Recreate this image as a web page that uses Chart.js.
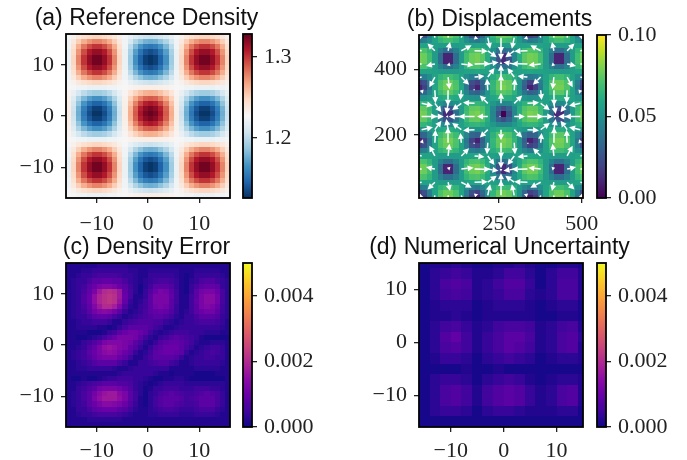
<!DOCTYPE html>
<html>
<head>
<meta charset="utf-8">
<title>Density panels</title>
<script src="https://cdn.jsdelivr.net/npm/chart.js@4"></script>
<style>
  html, body { margin: 0; padding: 0; background: #fff; }
  #wrap { position: relative; width: 687px; height: 460px; overflow: hidden; }
  canvas { position: absolute; left: 0; top: 0; filter: blur(0.6px); }
</style>
</head>
<body>
<div id="wrap"></div>
<script>
// (a) reference density, unit 0.001, one row per distinct y band
const rho0 = [1234,1205,1177,1154,1137,1128,1128,1137,1154,1177,1205,1234,1264,1289,1310,1323,1327,1323,1310,1289,1264,1234,1205,1177,1154,1137,1128,1128,1137,1154,1177,1205];
const rho1 = [1234,1206,1179,1157,1141,1132,1132,1141,1157,1179,1206,1234,1262,1287,1306,1318,1323,1318,1306,1287,1262,1234,1206,1179,1157,1141,1132,1132,1141,1157,1179,1206];
const rho2 = [1233,1209,1186,1167,1153,1145,1145,1153,1167,1186,1209,1233,1257,1278,1295,1306,1310,1306,1295,1278,1257,1233,1209,1186,1167,1153,1145,1145,1153,1167,1186,1209];
const rho3 = [1232,1213,1196,1181,1171,1165,1165,1171,1181,1196,1213,1232,1250,1266,1278,1287,1289,1287,1278,1266,1250,1232,1213,1196,1181,1171,1165,1165,1171,1181,1196,1213];
const rho4 = [1230,1219,1209,1200,1194,1191,1191,1194,1200,1209,1219,1230,1240,1250,1257,1262,1264,1262,1257,1250,1240,1230,1219,1209,1200,1194,1191,1191,1194,1200,1209,1219];
const rho5 = [1228,1225,1223,1222,1220,1220,1220,1220,1222,1223,1225,1228,1230,1232,1233,1234,1234,1234,1233,1232,1230,1228,1225,1223,1222,1220,1220,1220,1220,1222,1223,1225];
const rho6 = [1225,1232,1238,1243,1247,1249,1249,1247,1243,1238,1232,1225,1219,1213,1209,1206,1205,1206,1209,1213,1219,1225,1232,1238,1243,1247,1249,1249,1247,1243,1238,1232];
const rho7 = [1223,1238,1252,1264,1272,1277,1277,1272,1264,1252,1238,1223,1209,1196,1186,1179,1177,1179,1186,1196,1209,1223,1238,1252,1264,1272,1277,1277,1272,1264,1252,1238];
const rho8 = [1222,1243,1264,1281,1293,1300,1300,1293,1281,1264,1243,1222,1200,1181,1167,1157,1154,1157,1167,1181,1200,1222,1243,1264,1281,1293,1300,1300,1293,1281,1264,1243];
const rho9 = [1220,1247,1272,1293,1308,1316,1316,1308,1293,1272,1247,1220,1194,1171,1153,1141,1137,1141,1153,1171,1194,1220,1247,1272,1293,1308,1316,1316,1308,1293,1272,1247];
const rho10 = [1220,1249,1277,1300,1316,1325,1325,1316,1300,1277,1249,1220,1191,1165,1145,1132,1128,1132,1145,1165,1191,1220,1249,1277,1300,1316,1325,1325,1316,1300,1277,1249];
const densityValues = [rho6,rho7,rho8,rho9,rho10,rho10,rho9,rho8,rho7,rho6,rho5,rho4,rho3,rho2,rho1,rho0,rho1,rho2,rho3,rho4,rho5,rho6,rho7,rho8,rho9,rho10,rho10,rho9,rho8,rho7,rho6,rho5];

// (b) displacement magnitude, unit 0.001
const disp0 = [80,78,69,54,35,12,12,35,54,69,78,80,74,63,45,24,0,24,45,63,74,80,78,69,54,35,12,12,35,54,69,78];
const disp1 = [76,75,67,55,39,26,26,39,55,67,75,76,72,62,47,32,24,32,47,62,72,76,75,67,55,39,26,26,39,55,67,75];
const disp2 = [66,65,62,56,50,46,46,50,56,62,65,66,64,59,53,47,45,47,53,59,64,66,65,62,56,50,46,46,50,56,62,65];
const disp3 = [50,51,53,57,60,62,62,60,57,53,51,50,52,55,59,62,63,62,59,55,52,50,51,53,57,60,62,62,60,57,53,51];
const disp4 = [30,33,45,58,68,74,74,68,58,45,33,30,38,52,64,72,74,72,64,52,38,30,33,45,58,68,74,74,68,58,45,33];
const disp5 = [9,19,40,59,72,79,79,72,59,40,19,9,30,50,66,76,80,76,66,50,30,9,19,40,59,72,79,79,72,59,40,19];
const disp6 = [19,24,42,58,71,77,77,71,58,42,24,19,33,51,65,75,78,75,65,51,33,19,24,42,58,71,77,77,71,58,42,24];
const disp7 = [40,42,49,58,65,69,69,65,58,49,42,40,45,53,62,67,69,67,62,53,45,40,42,49,58,65,69,69,65,58,49,42];
const disp8 = [59,58,58,56,55,55,55,55,56,58,58,59,58,57,56,55,54,55,56,57,58,59,58,58,56,55,55,55,55,56,58,58];
const disp9 = [72,71,65,55,44,36,36,44,55,65,71,72,68,60,50,39,35,39,50,60,68,72,71,65,55,44,36,36,44,55,65,71];
const disp10 = [79,77,69,55,36,10,10,36,55,69,77,79,74,62,46,26,12,26,46,62,74,79,77,69,55,36,10,10,36,55,69,77];
const displacementValues = [disp6,disp7,disp8,disp9,disp10,disp10,disp9,disp8,disp7,disp6,disp5,disp4,disp3,disp2,disp1,disp0,disp1,disp2,disp3,disp4,disp5,disp6,disp7,disp8,disp9,disp10,disp10,disp9,disp8,disp7,disp6,disp5];

// (b) arrows, grid positions and components per row, top row first
const arrowX = [16,56,96,136,176,216,256,296,336,376,416,456,496];
const arrowY = [496,456,416,376,336,296,256,216,176,136,96,56,16];
const arrowU = [
  [-17,-10,3,14,18,12,0,-12,-18,-14,-3,10,17],
  [-64,-37,10,52,66,45,0,-45,-66,-52,-10,37,64],
  [-77,-45,12,62,79,54,0,-54,-79,-62,-12,45,77],
  [-49,-28,7,39,50,34,0,-34,-50,-39,-7,28,49],
  [6,3,-1,-5,-6,-4,0,4,6,5,1,-3,-6],
  [57,33,-9,-46,-58,-40,0,40,58,46,9,-33,-57],
  [78,45,-12,-63,-80,-54,0,54,80,63,12,-45,-78],
  [57,33,-9,-46,-58,-40,0,40,58,46,9,-33,-57],
  [6,3,-1,-5,-6,-4,0,4,6,5,1,-3,-6],
  [-49,-28,7,39,50,34,0,-34,-50,-39,-7,28,49],
  [-77,-45,12,62,79,54,0,-54,-79,-62,-12,45,77],
  [-64,-37,10,52,66,45,0,-45,-66,-52,-10,37,64],
  [-17,-10,3,14,18,12,0,-12,-18,-14,-3,10,17]
];
const arrowV = [
  [17,64,77,49,-6,-57,-78,-57,-6,49,77,64,17],
  [10,37,45,28,-3,-33,-45,-33,-3,28,45,37,10],
  [-3,-10,-12,-7,1,9,12,9,1,-7,-12,-10,-3],
  [-14,-52,-62,-39,5,46,63,46,5,-39,-62,-52,-14],
  [-18,-66,-79,-50,6,58,80,58,6,-50,-79,-66,-18],
  [-12,-45,-54,-34,4,40,54,40,4,-34,-54,-45,-12],
  [0,0,0,0,0,0,0,0,0,0,0,0,0],
  [12,45,54,34,-4,-40,-54,-40,-4,34,54,45,12],
  [18,66,79,50,-6,-58,-80,-58,-6,50,79,66,18],
  [14,52,62,39,-5,-46,-63,-46,-5,39,62,52,14],
  [3,10,12,7,-1,-9,-12,-9,-1,7,12,10,3],
  [-10,-37,-45,-28,3,33,45,33,3,-28,-45,-37,-10],
  [-17,-64,-77,-49,6,57,78,57,6,-49,-77,-64,-17]
];

// (c) density error, unit 0.0001, top row first
const errorValues = [
  [2,2,2,2,2,2,3,3,3,3,3,3,2,2,2,2,2,2,2,2,2,2,2,2,2,2,2,2,2,2,2,2],
  [2,2,2,3,3,4,4,4,4,4,4,4,3,3,2,2,3,3,3,3,3,3,2,2,2,3,3,3,3,3,2,2],
  [2,2,3,4,4,5,6,6,6,6,5,4,4,3,2,2,4,4,4,4,4,3,2,1,2,4,4,4,4,4,3,2],
  [2,3,4,4,6,8,8,9,9,8,8,6,4,3,2,3,4,5,6,6,5,4,2,1,3,4,6,7,7,5,4,3],
  [2,3,4,5,8,10,12,13,13,12,10,8,5,3,1,3,5,8,8,8,7,4,2,1,4,6,8,9,9,8,4,3],
  [2,3,4,6,9,12,17,20,21,20,17,9,6,3,1,4,7,10,12,11,8,5,2,1,4,8,11,12,12,10,6,3],
  [2,3,4,7,10,15,19,21,22,21,17,10,6,2,2,4,8,12,12,12,9,5,2,2,5,8,12,14,14,11,6,3],
  [2,3,4,7,10,15,19,21,22,21,16,9,4,2,3,5,8,12,12,12,8,5,2,2,5,9,12,14,14,11,6,3],
  [2,3,4,6,9,13,17,20,20,18,13,7,3,2,4,5,8,11,12,11,8,4,2,2,5,8,12,13,12,10,5,3],
  [2,3,4,5,8,11,13,14,13,11,8,4,2,3,4,6,8,9,10,9,7,4,2,3,5,8,10,11,11,8,5,3],
  [2,3,4,4,6,8,9,9,8,6,4,2,3,4,5,6,7,8,8,7,5,3,2,4,4,6,8,8,8,7,4,3],
  [2,2,3,4,4,5,5,5,4,2,2,4,5,6,7,7,7,6,6,4,3,2,3,4,4,5,6,6,6,5,4,2],
  [2,2,3,3,3,3,2,2,1,2,4,6,8,8,8,8,7,5,4,2,2,3,4,4,4,4,4,4,4,4,3,2],
  [2,2,2,2,1,1,1,2,4,5,8,10,11,11,10,8,5,3,2,3,4,5,5,5,4,4,4,3,3,3,2,2],
  [2,2,1,1,2,3,4,6,8,10,12,12,12,11,8,5,3,2,4,5,7,8,7,6,5,4,2,1,1,1,1,1],
  [2,2,2,4,5,7,9,12,13,13,13,12,11,8,6,3,2,4,7,8,9,9,8,7,5,3,2,2,3,3,3,2],
  [2,2,3,4,7,9,12,15,16,15,13,12,9,7,4,2,4,7,8,10,10,10,8,6,4,2,3,4,5,5,4,2],
  [2,3,4,5,8,10,12,14,15,14,12,10,8,4,2,3,5,8,9,10,10,9,8,4,2,3,4,5,6,5,4,2],
  [2,3,4,5,7,9,11,12,12,12,10,8,5,2,2,4,6,8,8,8,8,7,4,2,3,4,4,5,5,4,4,2],
  [2,2,3,4,5,7,8,8,8,8,6,4,2,2,4,4,5,6,7,7,5,4,2,2,3,4,4,4,4,4,3,2],
  [2,2,3,3,4,4,4,4,4,3,2,2,3,4,4,4,4,4,4,4,2,2,2,2,2,3,3,3,3,3,2,2],
  [2,2,2,2,2,2,2,2,2,2,3,4,4,4,4,4,4,3,2,2,1,2,2,2,2,1,1,1,1,2,2,2],
  [2,1,1,2,1,1,2,3,4,4,5,5,5,4,4,3,2,1,1,2,2,3,3,2,1,1,1,1,1,1,1,2],
  [2,2,3,4,5,6,7,8,8,8,7,7,6,4,3,2,1,2,3,4,4,4,4,3,3,3,3,3,3,3,3,2],
  [2,2,4,5,7,8,11,12,12,12,11,9,7,4,3,1,2,4,4,5,5,5,4,4,4,5,5,5,4,4,3,2],
  [2,3,4,6,8,11,14,16,17,17,14,12,8,5,3,1,3,4,6,7,8,7,6,5,5,6,7,8,7,6,4,2],
  [2,3,4,6,8,12,15,17,17,17,15,12,8,5,2,1,3,5,7,8,8,8,7,5,6,7,8,8,8,6,4,2],
  [2,3,4,5,8,10,12,14,14,13,12,10,7,4,2,1,3,5,7,8,8,7,6,5,5,6,8,8,8,6,4,2],
  [2,2,4,4,6,8,9,10,10,10,8,7,5,3,2,2,3,4,5,6,6,5,4,4,4,5,6,6,6,4,3,2],
  [2,2,3,4,4,5,6,6,6,6,5,4,3,2,2,2,3,3,4,4,4,4,3,3,3,4,4,4,4,3,2,2],
  [2,2,2,2,3,3,3,3,3,3,3,2,2,2,2,2,2,2,2,2,2,2,2,2,2,2,2,2,2,2,2,2],
  [2,2,2,2,2,2,2,2,2,2,2,2,2,2,2,2,2,2,2,2,2,2,2,2,2,2,2,2,2,2,2,2]
];

// (d) numerical uncertainty, unit 0.0001, top row first
const uncertaintyValues = [
  [1,2,2,3,2,1,1,2,2,3,2,1,1,2,2,1],
  [1,3,4,5,4,2,2,3,5,5,3,1,3,5,5,2],
  [1,3,6,7,6,2,3,5,7,7,4,1,3,6,6,2],
  [1,3,5,6,5,2,3,4,6,6,3,2,3,6,6,2],
  [1,2,3,3,3,1,2,3,3,3,2,1,2,3,3,1],
  [1,2,2,3,2,1,2,2,2,2,2,1,1,2,2,1],
  [1,3,5,6,4,2,3,5,6,6,5,2,3,5,6,2],
  [1,3,7,9,5,2,4,6,8,8,6,2,3,6,7,3],
  [1,3,6,7,5,2,4,6,8,7,5,2,3,6,7,2],
  [1,2,4,4,3,1,3,4,5,4,3,1,2,3,3,2],
  [1,1,1,1,2,1,1,2,1,1,1,1,1,1,1,1],
  [1,3,4,4,3,1,3,4,5,4,2,1,2,3,3,2],
  [1,3,6,7,5,2,5,7,8,7,4,2,3,6,7,2],
  [1,3,6,7,5,2,5,7,8,7,4,2,3,6,7,2],
  [1,3,4,4,3,1,3,4,4,3,2,2,2,3,3,1],
  [1,1,1,1,1,1,1,1,1,1,1,1,1,1,1,1]
];

// tick labels
const gridTicks = [-10, 0, 10];
const dispTicksX = [250, 500];
const dispTicksY = [200, 400];
const densityBarTicks = [1.2, 1.3];
const densityBarLabels = ['1.2', '1.3'];
const dispBarTicks = [0, 0.05, 0.1];
const dispBarLabels = ['0.00', '0.05', '0.10'];
const errorBarTicks = [0, 0.002, 0.004];
const errorBarLabels = ['0.000', '0.002', '0.004'];

const titles = ['(a) Reference Density', '(b) Displacements', '(c) Density Error', '(d) Numerical Uncertainty'];

// colormaps, 11 evenly spaced stops
const RdBuR = ['#053061','#2166ac','#4393c3','#92c5de','#d1e5f0','#f7f7f7','#fddbc7','#f4a582','#d6604d','#b2182b','#67001f'];
const viridis = ['#440154','#482475','#414487','#355f8d','#2a788e','#21918c','#22a884','#44bf70','#7ad151','#bddf26','#fde725'];
const plasma = ['#0d0887','#41049d','#6a00a8','#8f0da4','#b12a90','#cc4778','#e16462','#f2844b','#fca636','#fcce25','#f0f921'];

const W = 687, H = 460;
const TICK_FONT = { family: '"Liberation Serif", serif', size: 22 };
const wrap = document.getElementById('wrap');

function hexToRgb(h) {
    return [parseInt(h.slice(1, 3), 16), parseInt(h.slice(3, 5), 16), parseInt(h.slice(5, 7), 16)];
}

function cmapColor(stops, t) {
    t = Math.max(0, Math.min(1, t)) * (stops.length - 1);
    const i = Math.min(Math.floor(t), stops.length - 2);
    const a = hexToRgb(stops[i]), b = hexToRgb(stops[i + 1]);
    const f = t - i;
    return `rgb(${a.map((c, n) => Math.round(c + (b[n] - c) * f)).join(',')})`;
}

function newCanvas() {
    const canvas = document.createElement('canvas');
    canvas.width = W;
    canvas.height = H;
    canvas.style.width = W + 'px';
    canvas.style.height = H + 'px';
    wrap.appendChild(canvas);
    return canvas;
}

function minusLabel(value) {
    return String(value).replace('-', '\u2212');
}

function fixedTicks(values) {
    return axis => { axis.ticks = values.map(v => ({ value: v })); };
}

function drawFrame(chart) {
    const a = chart.chartArea, ctx = chart.ctx;
    ctx.save();
    ctx.strokeStyle = '#000';
    ctx.lineWidth = 1.8;
    ctx.strokeRect(a.left, a.top, a.right - a.left, a.bottom - a.top);
    ctx.restore();
}

// Draw the cells and, when given, the arrows through the chart's own scales
function heatmapPlugin(p) {
    return {
        id: 'heatmap',
        beforeDatasetsDraw(chart) {
            const { ctx, chartArea: a, scales: { x, y } } = chart;
            ctx.save();
            ctx.beginPath();
            ctx.rect(a.left, a.top, a.right - a.left, a.bottom - a.top);
            ctx.clip();
            chart.data.datasets[0].data.forEach(d => {
                const x0 = Math.round(x.getPixelForValue(d.x));
                const x1 = Math.round(x.getPixelForValue(d.x + p.cell));
                const y0 = Math.round(y.getPixelForValue(d.y + p.cell));
                const y1 = Math.round(y.getPixelForValue(d.y));
                ctx.fillStyle = cmapColor(p.cmap, (d.v - p.vmin) / (p.vmax - p.vmin));
                ctx.fillRect(x0, y0, x1 - x0, y1 - y0);
            });
            if (p.arrows) {
                p.arrows.yPos.forEach((ay, r) => {
                    p.arrows.xPos.forEach((ax, c) => {
                        const u = p.arrows.u[r][c], v = p.arrows.v[r][c];
                        drawArrow(ctx,
                            x.getPixelForValue(ax), y.getPixelForValue(ay),
                            x.getPixelForValue(ax + u * 0.6), y.getPixelForValue(ay + v * 0.6));
                    });
                });
            }
            ctx.restore();
        },
        afterDraw(chart) {
            drawFrame(chart);
            const ctx = chart.ctx;
            ctx.save();
            ctx.fillStyle = '#111';
            ctx.font = '23px "Liberation Sans", sans-serif';
            ctx.textAlign = 'center';
            ctx.textBaseline = 'alphabetic';
            ctx.fillText(p.title, (chart.chartArea.left + chart.chartArea.right) / 2 - 1.5, chart.chartArea.top - 9);
            ctx.restore();
        }
    };
}

function drawArrow(ctx, x0, y0, x1, y1) {
    const dx = x1 - x0, dy = y1 - y0;
    const len = Math.hypot(dx, dy);
    const ux = len > 0 ? dx / len : 1, uy = len > 0 ? dy / len : 0;
    const head = Math.min(6, Math.max(len, 1.5));
    const half = Math.min(3, Math.max(head * 0.55, 0.8));
    ctx.strokeStyle = '#fff';
    ctx.fillStyle = '#fff';
    ctx.lineWidth = 1.5;
    if (len > head) {
        ctx.beginPath();
        ctx.moveTo(x0, y0);
        ctx.lineTo(x1 - ux * head, y1 - uy * head);
        ctx.stroke();
    }
    const bx = x0 + dx - ux * head, by = y0 + dy - uy * head;
    ctx.beginPath();
    ctx.moveTo(x0 + dx, y0 + dy);
    ctx.lineTo(bx - uy * half, by + ux * half);
    ctx.lineTo(bx + uy * half, by - ux * half);
    ctx.closePath();
    ctx.fill();
}

// The axis keeps a fixed box so the plot area lands on exact pixels
function axisOptions(min, max, tickValues, position, size, pad) {
    return {
        type: 'linear',
        position: position,
        min: min,
        max: max,
        afterBuildTicks: fixedTicks(tickValues),
        afterFit(scale) {
            if (scale.isHorizontal()) scale.height = size;
            else scale.width = size;
        },
        border: { display: false },
        grid: { drawOnChartArea: false, drawTicks: true, tickLength: 5, tickColor: '#222', lineWidth: 1.3 },
        ticks: {
            autoSkip: false,
            maxRotation: 0,
            color: '#222',
            font: TICK_FONT,
            padding: pad,
            callback: minusLabel
        }
    };
}

function makeHeatmap(p) {
    const cells = [];
    p.rows.forEach((row, r) => {
        row.forEach((v, c) => {
            cells.push({ x: p.x0 + c * p.cell, y: p.yTop - (r + 1) * p.cell, v: v * p.unit });
        });
    });
    new Chart(newCanvas(), {
        type: 'scatter',
        data: { datasets: [{ data: cells, pointRadius: 0, pointHoverRadius: 0 }] },
        options: {
            responsive: false,
            animation: false,
            events: [],
            layout: { padding: { left: 0, top: p.box[1], right: W - p.box[2], bottom: 0 } },
            plugins: { legend: { display: false }, tooltip: { enabled: false } },
            scales: {
                x: axisOptions(p.xlim[0], p.xlim[1], p.xTicks, 'bottom', H - p.box[3], p.xPad),
                y: axisOptions(p.ylim[0], p.ylim[1], p.yTicks, 'left', p.box[0], 7)
            }
        },
        plugins: [heatmapPlugin(p)]
    });
}

function makeColorbar(b) {
    const yAxis = axisOptions(b.vmin, b.vmax, b.ticks, 'right', W - b.box[2], 7);
    yAxis.ticks.callback = value => b.labels[b.ticks.indexOf(value)];
    new Chart(newCanvas(), {
        type: 'scatter',
        data: { datasets: [{ data: [], pointRadius: 0 }] },
        options: {
            responsive: false,
            animation: false,
            events: [],
            layout: { padding: { left: b.box[0], top: b.box[1], right: 0, bottom: H - b.box[3] } },
            plugins: { legend: { display: false }, tooltip: { enabled: false } },
            scales: {
                x: { display: false, min: 0, max: 1 },
                y: yAxis
            }
        },
        plugins: [{
            id: 'colorbar',
            beforeDatasetsDraw(chart) {
                const { ctx, chartArea: a, scales: { y } } = chart;
                const grad = ctx.createLinearGradient(0, y.getPixelForValue(b.vmin), 0, y.getPixelForValue(b.vmax));
                b.cmap.forEach((c, i) => grad.addColorStop(i / (b.cmap.length - 1), c));
                ctx.save();
                ctx.fillStyle = grad;
                ctx.fillRect(a.left, a.top, a.right - a.left, a.bottom - a.top);
                ctx.restore();
            },
            afterDraw: drawFrame
        }]
    });
}

// (a)
makeHeatmap({
    title: titles[0], rows: densityValues, unit: 0.001, cmap: RdBuR, vmin: 1.126, vmax: 1.328,
    x0: -16, yTop: 16, cell: 1, xlim: [-16, 16], ylim: [-16, 16],
    xTicks: gridTicks, yTicks: gridTicks, box: [66, 34, 230, 198], xPad: 8
});
makeColorbar({ cmap: RdBuR, vmin: 1.126, vmax: 1.328, ticks: densityBarTicks, labels: densityBarLabels, box: [243, 34, 252, 198] });

// (b)
makeHeatmap({
    title: titles[1], rows: displacementValues, unit: 0.001, cmap: viridis, vmin: 0, vmax: 0.1,
    x0: 0, yTop: 512, cell: 16, xlim: [8, 504], ylim: [8, 504],
    xTicks: dispTicksX, yTicks: dispTicksY, box: [419, 35, 583, 198], xPad: 8,
    arrows: { xPos: arrowX, yPos: arrowY, u: arrowU, v: arrowV }
});
makeColorbar({ cmap: viridis, vmin: 0, vmax: 0.1, ticks: dispBarTicks, labels: dispBarLabels, box: [597, 35, 606, 198] });

// (c)
makeHeatmap({
    title: titles[2], rows: errorValues, unit: 0.0001, cmap: plasma, vmin: 0, vmax: 0.005,
    x0: -16, yTop: 16, cell: 1, xlim: [-16, 16], ylim: [-16, 16],
    xTicks: gridTicks, yTicks: gridTicks, box: [66, 263, 230, 427], xPad: 6
});
makeColorbar({ cmap: plasma, vmin: 0, vmax: 0.005, ticks: errorBarTicks, labels: errorBarLabels, box: [243, 263, 252, 427] });

// (d)
makeHeatmap({
    title: titles[3], rows: uncertaintyValues, unit: 0.0001, cmap: plasma, vmin: 0, vmax: 0.005,
    x0: -16, yTop: 16, cell: 2, xlim: [-16, 15], ylim: [-16, 15],
    xTicks: gridTicks, yTicks: gridTicks, box: [419, 263, 583, 427], xPad: 6
});
makeColorbar({ cmap: plasma, vmin: 0, vmax: 0.005, ticks: errorBarTicks, labels: errorBarLabels, box: [597, 263, 606, 427] });
</script>
</body>
</html>
